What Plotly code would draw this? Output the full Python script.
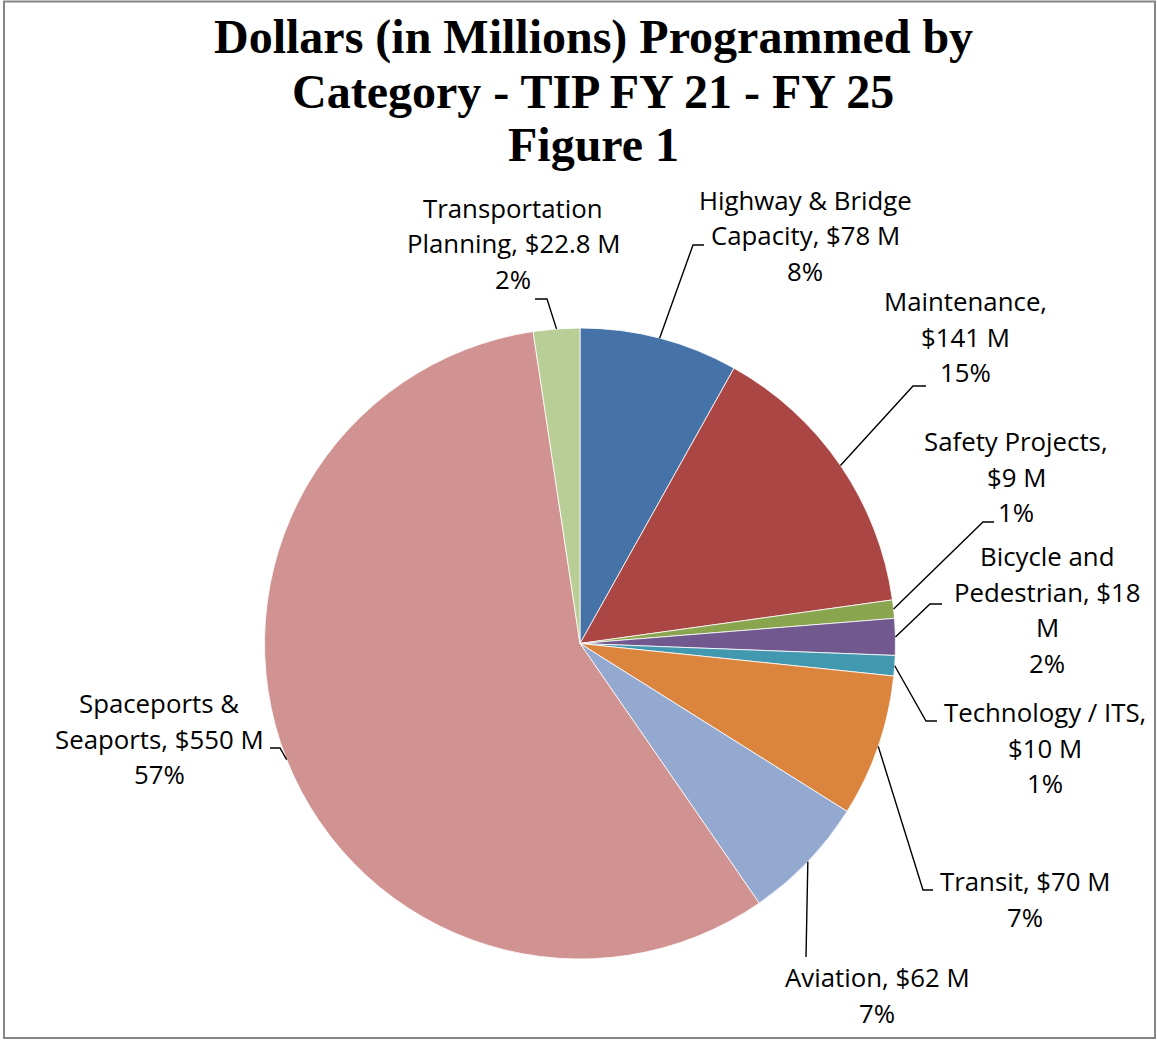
import math
import textwrap
import plotly.graph_objects as go

# ---------------- data ----------------
categories = ["Highway & Bridge Capacity", "Maintenance", "Safety Projects",
              "Bicycle and Pedestrian", "Technology / ITS", "Transit",
              "Aviation", "Spaceports & Seaports", "Transportation Planning"]
values = [78, 141, 9, 18, 10, 70, 62, 550, 22.8]
value_labels = ["$78 M", "$141 M", "$9 M", "$18 M", "$10 M", "$70 M",
                "$62 M", "$550 M", "$22.8 M"]
percent_labels = ["8%", "15%", "1%", "2%", "1%", "7%", "7%", "57%", "2%"]
title_lines = ["Dollars (in Millions) Programmed by",
               "Category - TIP FY 21 - FY 25", "Figure 1"]

# ---------------- styles / layout ----------------
colors = ["#4572A7", "#AA4643", "#89A54E", "#71588F", "#4198AF",
          "#DB843D", "#93A9CF", "#D19392", "#B9CD96"]
W, H = 1157, 1040
CX, CY, R = 580, 643.5, 315.5          # pie centre / radius in pixels
LABEL_FONT = "Open Sans"
LABEL_SIZE = 25.8
LINE_STEP = 35.5
TITLE_FONT = "Liberation Serif"
TITLE_SIZE = 48
TITLE_CX = 593
TITLE_Y = [37, 91, 145]

# per-label layout: wrap width, text centre x, first line y, leader elbow, leader end
label_layout = [
    dict(wrap=16, cx=805, y0=200, elbow=(693, 245), end=(704, 245)),
    dict(wrap=12, cx=965, y0=301, elbow=(913, 386), end=(926, 386)),
    dict(wrap=16, cx=1016, y0=441, elbow=(983, 522), end=(994, 522)),
    dict(wrap=15, cx=1047, y0=556, elbow=(930, 604), end=(942, 604)),
    dict(wrap=17, cx=1045, y0=712, elbow=(926, 721), end=(937, 721)),
    dict(wrap=20, cx=1025, y0=881, elbow=(923, 890), end=(933, 890)),
    dict(wrap=20, cx=877, y0=977, elbow=(806, 957), end=None),
    dict(wrap=16, cx=159, y0=703, elbow=(280, 748), end=(270, 748)),
    dict(wrap=17, cx=513, y0=208, elbow=(547, 299), end=(535, 299)),
]


def px(x):
    return x / W


def py(y):
    return 1 - y / H


fig = go.Figure(go.Pie(
    labels=categories,
    values=values,
    sort=False,
    direction="clockwise",
    rotation=0,
    textinfo="none",
    hoverinfo="skip",
    marker=dict(colors=colors, line=dict(color="white", width=0.8)),
    domain=dict(x=[px(CX - R), px(CX + R)], y=[py(CY + R), py(CY - R)]),
    showlegend=False,
))

annotations = []
shapes = []

# title
for ln, ty in zip(title_lines, TITLE_Y):
    annotations.append(dict(
        x=px(TITLE_CX), y=py(ty), xref="paper", yref="paper", text=f"<b>{ln}</b>",
        showarrow=False, xanchor="center", yanchor="middle",
        font=dict(family=TITLE_FONT, size=TITLE_SIZE, color="black")))

total = sum(values)
cum = 0.0
for cat, val, vlab, plab, lay in zip(categories, values, value_labels,
                                     percent_labels, label_layout):
    mid = (cum + val / 2) / total * 2 * math.pi
    cum += val
    ex = CX + R * math.sin(mid)
    ey = CY - R * math.cos(mid)
    lines = textwrap.wrap(f"{cat}, {vlab}", lay["wrap"]) + [plab]
    for i, ln in enumerate(lines):
        annotations.append(dict(
            x=px(lay["cx"]), y=py(lay["y0"] + i * LINE_STEP),
            xref="paper", yref="paper", text=ln, showarrow=False,
            xanchor="center", yanchor="middle",
            font=dict(family=LABEL_FONT, size=LABEL_SIZE, color="black")))
    pts = [(ex, ey), lay["elbow"]]
    if lay["end"] is not None:
        pts.append(lay["end"])
    path = "M " + " L ".join(f"{px(a)},{py(b)}" for a, b in pts)
    shapes.append(dict(type="path", path=path, xref="paper", yref="paper",
                       line=dict(color="black", width=1.4)))

# chart border
shapes.append(dict(type="rect", xref="paper", yref="paper",
                   x0=px(4), x1=px(1155), y0=py(1038), y1=py(1.5),
                   line=dict(color="#868686", width=2), layer="above"))

fig.update_layout(
    width=W, height=H,
    margin=dict(l=0, r=0, t=0, b=0),
    paper_bgcolor="white", plot_bgcolor="white",
    annotations=annotations,
    shapes=shapes,
    hovermode=False,
)

fig.write_html("out.html", config=dict(displayModeBar=False),
               post_script="document.body.style.margin='0';")
